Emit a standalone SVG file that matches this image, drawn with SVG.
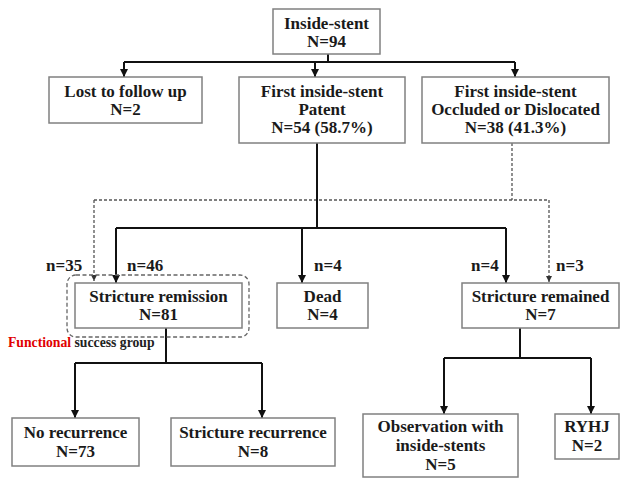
<svg xmlns="http://www.w3.org/2000/svg" width="622" height="479" viewBox="0 0 622 479">
<style>
.box{fill:#fff;stroke:#808080;stroke-width:1.5}
.t{font-family:"Liberation Serif","Times New Roman",serif;font-weight:bold;font-size:17px;fill:#1a1a1a;text-anchor:middle}
.l{font-family:"Liberation Serif","Times New Roman",serif;font-weight:bold;font-size:17px;fill:#1a1a1a}
.g{font-family:"Liberation Serif","Times New Roman",serif;font-weight:bold;font-size:13.7px}
.s{fill:none;stroke:#111;stroke-width:2}
.d{fill:none;stroke:#555;stroke-width:1.3;stroke-dasharray:3,2}
</style>
<defs>
<marker id="a" viewBox="0 0 10 10" refX="10" refY="5" markerWidth="4" markerHeight="4" orient="auto" markerUnits="strokeWidth"><path d="M0,0L10,5L0,10z" fill="#111"/></marker>
<marker id="ad" viewBox="0 0 10 10" refX="10" refY="5" markerWidth="5" markerHeight="5" orient="auto" markerUnits="strokeWidth"><path d="M0,0L10,5L0,10z" fill="#333"/></marker>
</defs>
<g id="connectors">
<path class="s" d="M328,54V62"/>
<path class="s" d="M124,62H515"/>
<path class="s" d="M124,62V77" marker-end="url(#a)"/>
<path class="s" d="M315,62V77" marker-end="url(#a)"/>
<path class="s" d="M515,62V77" marker-end="url(#a)"/>
<path class="d" d="M512,143V200"/>
<path class="d" d="M94,200H549"/>
<path class="d" d="M94,200V281" marker-end="url(#ad)"/>
<path class="d" d="M549,200V282" marker-end="url(#ad)"/>
<path class="s" d="M317,143V228"/>
<path class="s" d="M116,228H506"/>
<path class="s" d="M116,228V283" marker-end="url(#a)"/>
<path class="s" d="M302,228V283" marker-end="url(#a)"/>
<path class="s" d="M506,228V283" marker-end="url(#a)"/>
<path class="s" d="M166,328V363"/>
<path class="s" d="M75,363H262"/>
<path class="s" d="M75,363V418" marker-end="url(#a)"/>
<path class="s" d="M262,363V418" marker-end="url(#a)"/>
<path class="s" d="M520,328V358"/>
<path class="s" d="M444,358H591"/>
<path class="s" d="M444,358V414" marker-end="url(#a)"/>
<path class="s" d="M591,358V414" marker-end="url(#a)"/>
</g>
<g id="group">
<rect x="67" y="275" width="182" height="62" rx="9" fill="none" stroke="#666" stroke-width="1.3" stroke-dasharray="4,2.5"/>
<text class="g" x="8" y="347"><tspan fill="#e00000">Functional</tspan><tspan fill="#222"> success group</tspan></text>
</g>
<g id="labels">
<text class="l" x="46" y="271">n=35</text>
<text class="l" x="127" y="271">n=46</text>
<text class="l" x="314" y="271">n=4</text>
<text class="l" x="471" y="271">n=4</text>
<text class="l" x="556" y="271">n=3</text>
</g>
<g id="n-inside"><rect class="box" x="273" y="9" width="107" height="45"/><text class="t" x="326.5" y="29">Inside-stent</text><text class="t" x="326.5" y="47">N=94</text></g>
<g id="n-lost"><rect class="box" x="49" y="77" width="153" height="46"/><text class="t" x="125.5" y="97">Lost to follow up</text><text class="t" x="125.5" y="115">N=2</text></g>
<g id="n-patent"><rect class="box" x="239" y="77" width="166" height="66"/><text class="t" x="322" y="97">First inside-stent</text><text class="t" x="322" y="115">Patent</text><text class="t" x="322" y="133">N=54 (58.7%)</text></g>
<g id="n-occluded"><rect class="box" x="422" y="77" width="187" height="66"/><text class="t" x="515.5" y="97">First inside-stent</text><text class="t" x="515.5" y="115">Occluded or Dislocated</text><text class="t" x="515.5" y="133">N=38 (41.3%)</text></g>
<g id="n-remission"><rect class="box" x="75" y="283" width="167" height="45"/><text class="t" x="158.5" y="302">Stricture remission</text><text class="t" x="158.5" y="320">N=81</text></g>
<g id="n-dead"><rect class="box" x="277" y="283" width="91" height="45"/><text class="t" x="322.5" y="302">Dead</text><text class="t" x="322.5" y="320">N=4</text></g>
<g id="n-remained"><rect class="box" x="462" y="283" width="157" height="45"/><text class="t" x="540.5" y="302">Stricture remained</text><text class="t" x="540.5" y="320">N=7</text></g>
<g id="n-norec"><rect class="box" x="12" y="418" width="127" height="48"/><text class="t" x="75.5" y="438">No recurrence</text><text class="t" x="75.5" y="457">N=73</text></g>
<g id="n-strrec"><rect class="box" x="171" y="418" width="164" height="48"/><text class="t" x="253" y="438">Stricture recurrence</text><text class="t" x="253" y="457">N=8</text></g>
<g id="n-obs"><rect class="box" x="363" y="414" width="155" height="63"/><text class="t" x="440.5" y="432">Observation with</text><text class="t" x="440.5" y="451">inside-stents</text><text class="t" x="440.5" y="470">N=5</text></g>
<g id="n-ryhj"><rect class="box" x="555" y="414" width="64" height="45"/><text class="t" x="587" y="432">RYHJ</text><text class="t" x="587" y="451">N=2</text></g>
</svg>
